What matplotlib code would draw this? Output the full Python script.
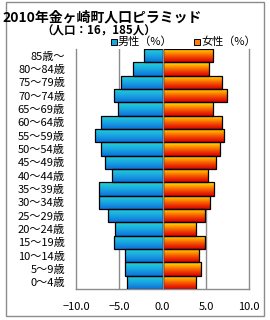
import matplotlib
matplotlib.use("Agg")
import matplotlib.pyplot as plt
from matplotlib.colors import LinearSegmentedColormap
from matplotlib.patches import Rectangle
import numpy as np

plt.rcParams['font.family'] = ['Noto Sans CJK JP', 'DejaVu Sans']

# age groups, bottom to top
ages = ["0～4歳", "5～9歳", "10～14歳", "15～19歳", "20～24歳", "25～29歳",
        "30～34歳", "35～39歳", "40～44歳", "45～49歳", "50～54歳", "55～59歳",
        "60～64歳", "65～69歳", "70～74歳", "75～79歳", "80～84歳", "85歳～"]
male = [4.1, 4.4, 4.4, 5.6, 5.5, 6.3, 7.3, 7.3, 5.8, 6.6, 7.1, 7.8,
        7.1, 5.1, 5.6, 4.8, 3.4, 2.2]
female = [3.8, 4.4, 4.2, 4.9, 3.9, 4.9, 5.5, 5.9, 5.2, 6.1, 6.6, 7.1,
          6.8, 5.8, 7.4, 6.8, 5.4, 5.8]
xticks = [-10, -5, 0, 5, 10]
xticklabels = ["−10.0", "−5.0", "0.0", "5.0", "10.0"]

TITLE = "2010年金ヶ崎町人口ピラミッド"
SUBTITLE = "（人口：16，185人）"

# gradients run top -> bottom of each bar
male_cmap = LinearSegmentedColormap.from_list("m", ["#28d4d8", "#18a8e0", "#1070dc"])
female_cmap = LinearSegmentedColormap.from_list("f", ["#ffec00", "#ff9000", "#f04000", "#d80000"])

fig = plt.figure(figsize=(2.7, 3.2), dpi=100)
ax = fig.add_axes([76 / 270, 1 - 289 / 320, 173.3 / 270, 240 / 320])

pos = np.arange(len(ages))
grad = np.linspace(0, 1, 64).reshape(-1, 1)


def gradient_bars(values, cmap):
    bars = ax.barh(pos, values, height=1.0, color='none', edgecolor='black',
                   linewidth=0.9, zorder=3)
    for b in bars:
        x0, y0 = b.get_x(), b.get_y()
        x1, y1 = x0 + b.get_width(), y0 + b.get_height()
        im = ax.imshow(grad, extent=[min(x0, x1), max(x0, x1), y0, y1],
                       origin='upper', aspect='auto', cmap=cmap, zorder=2)
        im.set_clip_path(b)


gradient_bars([-v for v in male], male_cmap)
gradient_bars(female, female_cmap)

ax.axvline(0, color='#8c8c8c', linewidth=1, zorder=4)
for g in (-5, 5):
    ax.axvline(g, color='#8c8c8c', linewidth=1, zorder=1)

ax.set_xlim(-10, 10)
ax.set_ylim(-0.5, len(ages) - 0.5)
ax.set_xticks(xticks)
ax.set_xticklabels(xticklabels, fontsize=8)
ax.set_yticks(pos)
ax.set_yticklabels(ages, fontsize=8)
ax.tick_params(length=0)
ax.tick_params(axis='x', pad=9)
ax.tick_params(axis='y', pad=8)
for s in ('left', 'right', 'bottom'):
    ax.spines[s].set_color('#8c8c8c')
    ax.spines[s].set_linewidth(1)
ax.spines['top'].set_visible(False)

# titles
fig.text(2 / 270, 1 - 17.5 / 320, TITLE, fontsize=10, fontweight='bold',
         ha='left', va='center')
fig.text(99 / 270, 1 - 31 / 320, SUBTITLE, fontsize=8.3, fontweight='bold',
         ha='center', va='center')

# legend
fig.patches.append(Rectangle((111 / 270, 1 - 44.5 / 320), 5.5 / 270, 5.5 / 320,
                             transform=fig.transFigure, facecolor='#18a8e0',
                             edgecolor='black', linewidth=0.7))
fig.text(118 / 270, 1 - 42 / 320, "男性（%）", fontsize=8, ha='left', va='center')
fig.patches.append(Rectangle((194 / 270, 1 - 44.5 / 320), 5.5 / 270, 5.5 / 320,
                             transform=fig.transFigure, facecolor='#ff8000',
                             edgecolor='black', linewidth=0.7))
fig.text(201 / 270, 1 - 42 / 320, "女性（%）", fontsize=8, ha='left', va='center')

# outer frame
fig.patches.append(Rectangle((5.5 / 270, 1 - 315.5 / 320), 258.5 / 270, 314 / 320,
                             transform=fig.transFigure, facecolor='none',
                             edgecolor='#8c8c8c', linewidth=1))

fig.savefig("out.png", dpi=100)
